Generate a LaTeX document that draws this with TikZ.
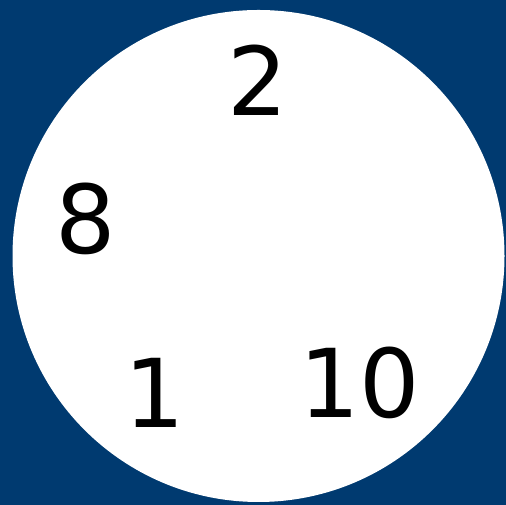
\documentclass[tikz,border=0pt]{standalone}
\usepackage{fontspec}
\setmainfont{DejaVu Sans}
\definecolor{bgblue}{RGB}{0,58,112}
\begin{document}
\begin{tikzpicture}[
    x=1pt, y=1pt,
    num/.style={
        inner sep=0pt, anchor=center, text=black,
        font=\fontsize{95}{95}\selectfont
    },
    dial/.style={fill=white, draw=none}
]

% ==================== BACKGROUND ====================
\fill[bgblue] (0,0) rectangle (506,505);
\useasboundingbox (0,0) rectangle (506,505);

% ==================== DIAL ====================
\fill[dial] (258.5,249) circle (246);

% ==================== NUMBERS ====================
\node[num] (two) at (258,425) {2};
\node[num] (eight) at (86,286) {8};
\node[num] (one) at (155,112) {1};
\node[num] (ten) at (359.5,122) {10};

\end{tikzpicture}
\end{document}
